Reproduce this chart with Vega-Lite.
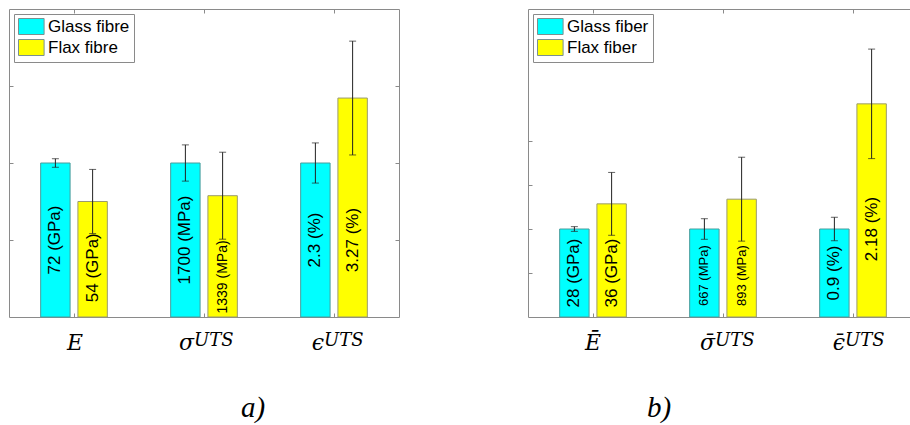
{
  "$schema": "https://vega.github.io/schema/vega-lite/v6.json",
  "background": "white",
  "padding": {"left": 8, "top": 8, "right": 0, "bottom": 0},
  "bounds": "flush",
  "spacing": 129,
  "resolve": {"scale": {"color": "independent", "xOffset": "independent"}, "legend": {"color": "independent"}},
  "datasets": {
    "fibre": [
      {"cat": "E", "series": "Glass fibre", "value": 72, "ref": 72, "err": 2, "unit": "GPa"},
      {"cat": "E", "series": "Flax fibre", "value": 54, "ref": 72, "err": 15, "unit": "GPa"},
      {"cat": "sigma", "series": "Glass fibre", "value": 1700, "ref": 1700, "err": 200, "unit": "MPa"},
      {"cat": "sigma", "series": "Flax fibre", "value": 1339, "ref": 1700, "err": 480, "unit": "MPa"},
      {"cat": "eps", "series": "Glass fibre", "value": 2.3, "ref": 2.3, "err": 0.3, "unit": "%"},
      {"cat": "eps", "series": "Flax fibre", "value": 3.27, "ref": 2.3, "err": 0.85, "unit": "%"}
    ],
    "fiber": [
      {"cat": "E", "series": "Glass fiber", "value": 28, "ref": 28, "err": 0.75, "unit": "GPa"},
      {"cat": "E", "series": "Flax fiber", "value": 36, "ref": 28, "err": 10, "unit": "GPa"},
      {"cat": "sigma", "series": "Glass fiber", "value": 667, "ref": 667, "err": 78, "unit": "MPa"},
      {"cat": "sigma", "series": "Flax fiber", "value": 893, "ref": 667, "err": 318, "unit": "MPa"},
      {"cat": "eps", "series": "Glass fiber", "value": 0.9, "ref": 0.9, "err": 0.12, "unit": "%"},
      {"cat": "eps", "series": "Flax fiber", "value": 2.18, "ref": 0.9, "err": 0.56, "unit": "%"}
    ],
    "fibreCats": [
      {"cat": "E", "sym": "E", "sup": ""},
      {"cat": "sigma", "sym": "σ", "sup": "UTS"},
      {"cat": "eps", "sym": "ϵ", "sup": "UTS"}
    ],
    "fiberCats": [
      {"cat": "E", "sym": "Ē", "sup": ""},
      {"cat": "sigma", "sym": "σ̄", "sup": "UTS"},
      {"cat": "eps", "sym": "ϵ̄", "sup": "UTS"}
    ]
  },
  "config": {
    "view": {"stroke": "#8a8a8a", "strokeWidth": 1},
    "axis": {"labels": false, "domain": false, "grid": false, "ticks": true, "tickSize": -4, "tickColor": "#8a8a8a", "title": null},
    "legend": {
      "orient": "top-left", "offset": 5, "padding": 4, "strokeColor": "#8a8a8a", "fillColor": "white",
      "symbolType": "M-1,-1H2.2V1H-1Z", "symbolSize": 256, "symbolStrokeColor": "#7a9090", "symbolStrokeWidth": 1,
      "labelFont": "Liberation Sans", "labelFontSize": 17, "labelColor": "black", "labelOffset": 13, "rowPadding": 0
    }
  },
  "hconcat": [
    {
      "width": 390,
      "height": 308,
      "title": {"text": "a)", "orient": "bottom", "frame": "group", "anchor": "middle", "offset": 40, "dx": 49, "font": "Liberation Serif", "fontStyle": "italic", "fontWeight": "normal", "fontSize": 29, "color": "black"},
      "data": {"name": "fibre"},
      "transform": [
        {"calculate": "datum.value / datum.ref", "as": "ratio"},
        {"calculate": "(datum.value - datum.err) / datum.ref", "as": "lo"},
        {"calculate": "(datum.value + datum.err) / datum.ref", "as": "hi"},
        {"calculate": "datum.value + ' (' + datum.unit + ')'", "as": "label"}
      ],
      "resolve": {"axis": {"x": "independent", "y": "independent"}},
      "layer": [
        {
          "mark": {"type": "bar", "strokeWidth": 1},
          "encoding": {
            "x": {"field": "cat", "type": "nominal", "sort": ["E", "sigma", "eps"], "scale": {"paddingInner": 0, "paddingOuter": 0}, "axis": {"orient": "bottom"}},
            "xOffset": {"field": "series", "sort": ["Glass fibre", "Flax fibre"], "scale": {"paddingInner": 0.21, "paddingOuter": 0.85}},
            "y": {"field": "ratio", "type": "quantitative", "scale": {"domain": [0, 2], "nice": false}, "axis": {"orient": "left", "values": [0.5, 1, 1.5]}},
            "color": {"field": "series", "type": "nominal", "scale": {"domain": ["Glass fibre", "Flax fibre"], "range": ["#00ffff", "#ffff00"]}, "legend": {"title": null}},
            "stroke": {"condition": {"test": "datum.series == 'Glass fibre'", "value": "#4a9c9c"}, "value": "#9a9a70"}
          }
        },
        {
          "mark": {"type": "rule", "color": "#222222", "strokeWidth": 1},
          "encoding": {
            "x": {"field": "cat", "type": "nominal", "sort": ["E", "sigma", "eps"], "axis": null},
            "xOffset": {"field": "series", "sort": ["Glass fibre", "Flax fibre"]},
            "y": {"field": "lo", "type": "quantitative", "axis": {"orient": "right", "values": [0.5, 1, 1.5]}},
            "y2": {"field": "hi"}
          }
        },
        {
          "mark": {"type": "tick", "color": "#222222", "size": 7, "thickness": 1},
          "encoding": {
            "x": {"field": "cat", "type": "nominal", "sort": ["E", "sigma", "eps"], "axis": null},
            "xOffset": {"field": "series", "sort": ["Glass fibre", "Flax fibre"]},
            "y": {"field": "lo", "type": "quantitative", "axis": null}
          }
        },
        {
          "mark": {"type": "tick", "color": "#222222", "size": 7, "thickness": 1},
          "encoding": {
            "x": {"field": "cat", "type": "nominal", "sort": ["E", "sigma", "eps"], "axis": null},
            "xOffset": {"field": "series", "sort": ["Glass fibre", "Flax fibre"]},
            "y": {"field": "hi", "type": "quantitative", "axis": null}
          }
        },
        {
          "transform": [{"filter": "datum.series == 'Glass fibre' || datum.cat == 'eps'"}],
          "mark": {"type": "text", "angle": 270, "align": "center", "baseline": "middle", "font": "Liberation Sans", "fontSize": 17, "color": "black"},
          "encoding": {
            "x": {"field": "cat", "type": "nominal", "sort": ["E", "sigma", "eps"], "axis": null},
            "xOffset": {"field": "series", "sort": ["Glass fibre", "Flax fibre"]},
            "y": {"datum": 0.5, "type": "quantitative", "axis": null},
            "text": {"field": "label"}
          }
        },
        {
          "transform": [{"filter": "datum.series == 'Flax fibre' && datum.cat == 'E'"}],
          "mark": {"type": "text", "angle": 270, "align": "center", "baseline": "middle", "font": "Liberation Sans", "fontSize": 17, "color": "black"},
          "encoding": {
            "x": {"field": "cat", "type": "nominal", "sort": ["E", "sigma", "eps"], "axis": null},
            "xOffset": {"field": "series", "sort": ["Glass fibre", "Flax fibre"]},
            "y": {"datum": 0.32, "type": "quantitative", "axis": null},
            "text": {"field": "label"}
          }
        },
        {
          "transform": [{"filter": "datum.series == 'Flax fibre' && datum.cat == 'sigma'"}],
          "mark": {"type": "text", "angle": 270, "align": "center", "baseline": "middle", "font": "Liberation Sans", "fontSize": 14, "color": "black"},
          "encoding": {
            "x": {"field": "cat", "type": "nominal", "sort": ["E", "sigma", "eps"], "axis": null},
            "xOffset": {"field": "series", "sort": ["Glass fibre", "Flax fibre"]},
            "y": {"datum": 0.26, "type": "quantitative", "axis": null},
            "text": {"field": "label"}
          }
        },
        {
          "data": {"name": "fibreCats"},
          "transform": [{"filter": "datum.sup == ''"}],
          "mark": {"type": "text", "align": "center", "baseline": "alphabetic", "dx": 1, "dy": 33, "font": "DejaVu Serif", "fontStyle": "italic", "fontSize": 22, "color": "black"},
          "encoding": {
            "x": {"field": "cat", "type": "nominal", "sort": ["E", "sigma", "eps"], "axis": {"orient": "top"}},
            "y": {"datum": 0, "type": "quantitative", "axis": null},
            "text": {"field": "sym"}
          }
        },
        {
          "data": {"name": "fibreCats"},
          "transform": [{"filter": "datum.sup != ''"}],
          "mark": {"type": "text", "align": "right", "baseline": "alphabetic", "dx": -10, "dy": 33, "font": "DejaVu Serif", "fontStyle": "italic", "fontSize": 22, "color": "black"},
          "encoding": {
            "x": {"field": "cat", "type": "nominal", "sort": ["E", "sigma", "eps"], "axis": null},
            "y": {"datum": 0, "type": "quantitative", "axis": null},
            "text": {"field": "sym"}
          }
        },
        {
          "data": {"name": "fibreCats"},
          "transform": [{"filter": "datum.sup != ''"}],
          "mark": {"type": "text", "align": "left", "baseline": "alphabetic", "dx": -10, "dy": 29, "font": "DejaVu Serif", "fontStyle": "italic", "fontSize": 18, "color": "black"},
          "encoding": {
            "x": {"field": "cat", "type": "nominal", "sort": ["E", "sigma", "eps"], "axis": null},
            "y": {"datum": 0, "type": "quantitative", "axis": null},
            "text": {"field": "sup"}
          }
        }
      ]
    },
    {
      "width": 390,
      "height": 308,
      "title": {"text": "b)", "orient": "bottom", "frame": "group", "anchor": "middle", "offset": 40, "dx": -64, "font": "Liberation Serif", "fontStyle": "italic", "fontWeight": "normal", "fontSize": 29, "color": "black"},
      "data": {"name": "fiber"},
      "transform": [
        {"calculate": "datum.value / datum.ref", "as": "ratio"},
        {"calculate": "(datum.value - datum.err) / datum.ref", "as": "lo"},
        {"calculate": "(datum.value + datum.err) / datum.ref", "as": "hi"},
        {"calculate": "datum.value + ' (' + datum.unit + ')'", "as": "label"}
      ],
      "resolve": {"axis": {"x": "independent", "y": "independent"}},
      "layer": [
        {
          "mark": {"type": "bar", "strokeWidth": 1},
          "encoding": {
            "x": {"field": "cat", "type": "nominal", "sort": ["E", "sigma", "eps"], "scale": {"paddingInner": 0, "paddingOuter": 0}, "axis": {"orient": "bottom"}},
            "xOffset": {"field": "series", "sort": ["Glass fiber", "Flax fiber"], "scale": {"paddingInner": 0.21, "paddingOuter": 0.85}},
            "y": {"field": "ratio", "type": "quantitative", "scale": {"domain": [0, 3.5], "nice": false}, "axis": {"orient": "left", "values": [0.5, 1, 1.5, 2]}},
            "color": {"field": "series", "type": "nominal", "scale": {"domain": ["Glass fiber", "Flax fiber"], "range": ["#00ffff", "#ffff00"]}, "legend": {"title": null}},
            "stroke": {"condition": {"test": "datum.series == 'Glass fiber'", "value": "#4a9c9c"}, "value": "#9a9a70"}
          }
        },
        {
          "mark": {"type": "rule", "color": "#222222", "strokeWidth": 1},
          "encoding": {
            "x": {"field": "cat", "type": "nominal", "sort": ["E", "sigma", "eps"], "axis": null},
            "xOffset": {"field": "series", "sort": ["Glass fiber", "Flax fiber"]},
            "y": {"field": "lo", "type": "quantitative", "axis": null},
            "y2": {"field": "hi"}
          }
        },
        {
          "mark": {"type": "tick", "color": "#222222", "size": 7, "thickness": 1},
          "encoding": {
            "x": {"field": "cat", "type": "nominal", "sort": ["E", "sigma", "eps"], "axis": null},
            "xOffset": {"field": "series", "sort": ["Glass fiber", "Flax fiber"]},
            "y": {"field": "lo", "type": "quantitative", "axis": null}
          }
        },
        {
          "mark": {"type": "tick", "color": "#222222", "size": 7, "thickness": 1},
          "encoding": {
            "x": {"field": "cat", "type": "nominal", "sort": ["E", "sigma", "eps"], "axis": null},
            "xOffset": {"field": "series", "sort": ["Glass fiber", "Flax fiber"]},
            "y": {"field": "hi", "type": "quantitative", "axis": null}
          }
        },
        {
          "transform": [{"filter": "datum.cat == 'E' || (datum.cat == 'eps' && datum.series == 'Glass fiber')"}],
          "mark": {"type": "text", "angle": 270, "align": "center", "baseline": "middle", "font": "Liberation Sans", "fontSize": 17, "color": "black"},
          "encoding": {
            "x": {"field": "cat", "type": "nominal", "sort": ["E", "sigma", "eps"], "axis": null},
            "xOffset": {"field": "series", "sort": ["Glass fiber", "Flax fiber"]},
            "y": {"datum": 0.5, "type": "quantitative", "axis": null},
            "text": {"field": "label"}
          }
        },
        {
          "transform": [{"filter": "datum.cat == 'sigma'"}],
          "mark": {"type": "text", "angle": 270, "align": "center", "baseline": "middle", "font": "Liberation Sans", "fontSize": 13, "color": "black"},
          "encoding": {
            "x": {"field": "cat", "type": "nominal", "sort": ["E", "sigma", "eps"], "axis": null},
            "xOffset": {"field": "series", "sort": ["Glass fiber", "Flax fiber"]},
            "y": {"datum": 0.47, "type": "quantitative", "axis": null},
            "text": {"field": "label"}
          }
        },
        {
          "transform": [{"filter": "datum.cat == 'eps' && datum.series == 'Flax fiber'"}],
          "mark": {"type": "text", "angle": 270, "align": "center", "baseline": "middle", "font": "Liberation Sans", "fontSize": 17, "color": "black"},
          "encoding": {
            "x": {"field": "cat", "type": "nominal", "sort": ["E", "sigma", "eps"], "axis": null},
            "xOffset": {"field": "series", "sort": ["Glass fiber", "Flax fiber"]},
            "y": {"datum": 1.0, "type": "quantitative", "axis": null},
            "text": {"field": "label"}
          }
        },
        {
          "data": {"name": "fiberCats"},
          "transform": [{"filter": "datum.sup == ''"}],
          "mark": {"type": "text", "align": "center", "baseline": "alphabetic", "dx": 0, "dy": 33, "font": "DejaVu Serif", "fontStyle": "italic", "fontSize": 22, "color": "black"},
          "encoding": {
            "x": {"field": "cat", "type": "nominal", "sort": ["E", "sigma", "eps"], "axis": {"orient": "top"}},
            "y": {"datum": 0, "type": "quantitative", "axis": null},
            "text": {"field": "sym"}
          }
        },
        {
          "data": {"name": "fiberCats"},
          "transform": [{"filter": "datum.sup != ''"}],
          "mark": {"type": "text", "align": "right", "baseline": "alphabetic", "dx": -8, "dy": 33, "font": "DejaVu Serif", "fontStyle": "italic", "fontSize": 22, "color": "black"},
          "encoding": {
            "x": {"field": "cat", "type": "nominal", "sort": ["E", "sigma", "eps"], "axis": null},
            "y": {"datum": 0, "type": "quantitative", "axis": null},
            "text": {"field": "sym"}
          }
        },
        {
          "data": {"name": "fiberCats"},
          "transform": [{"filter": "datum.sup != ''"}],
          "mark": {"type": "text", "align": "left", "baseline": "alphabetic", "dx": -8, "dy": 29, "font": "DejaVu Serif", "fontStyle": "italic", "fontSize": 18, "color": "black"},
          "encoding": {
            "x": {"field": "cat", "type": "nominal", "sort": ["E", "sigma", "eps"], "axis": null},
            "y": {"datum": 0, "type": "quantitative", "axis": null},
            "text": {"field": "sup"}
          }
        }
      ]
    }
  ]
}
